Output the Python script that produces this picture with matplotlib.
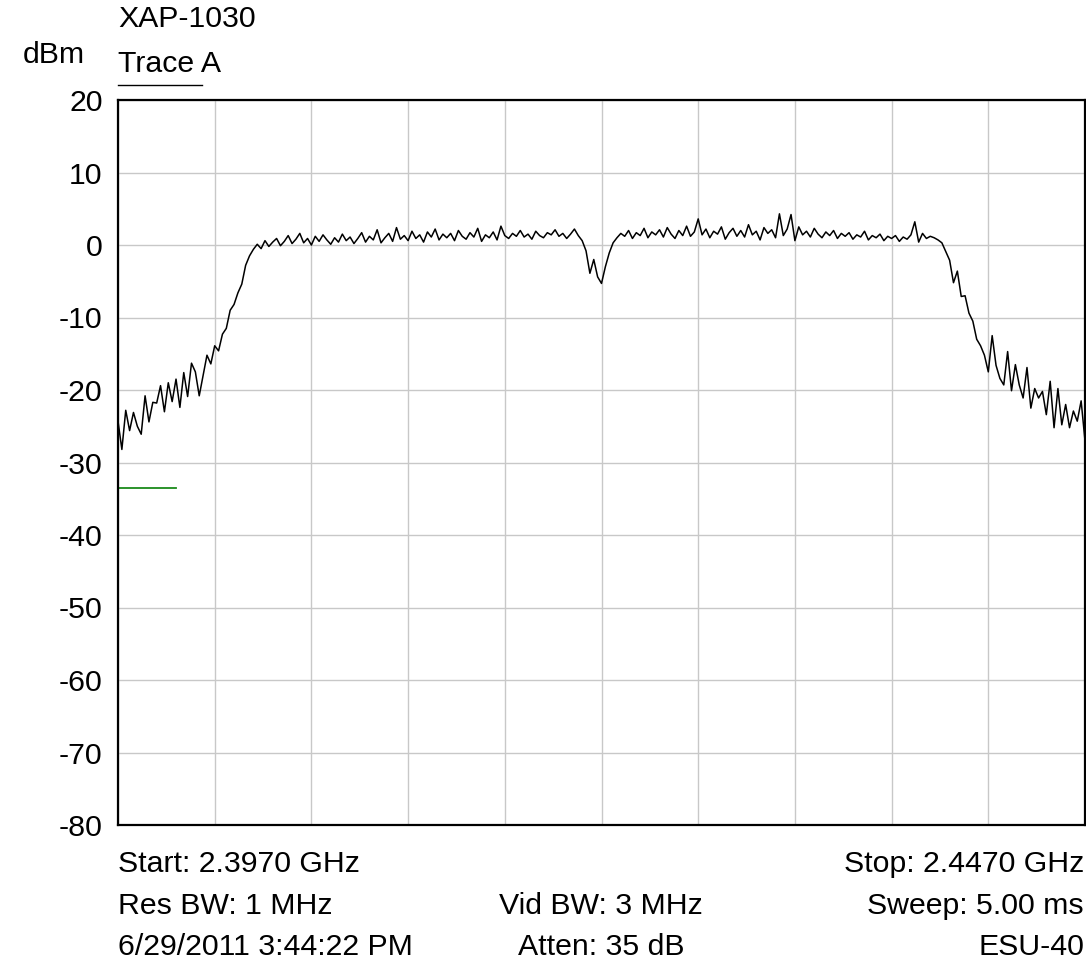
import numpy as np
import matplotlib.pyplot as plt

plt.rcParams['font.family'] = ['Liberation Sans', 'DejaVu Sans']

# sweep settings (GHz) and dBm scale
f_start = 2.3970
f_stop = 2.4470
y_ticks = [20, 10, 0, -10, -20, -30, -40, -50, -60, -70, -80]

# Trace A in 0.2 MHz steps
skirt_left = [-24.3, -28.2, -22.8, -25.6, -23.1, -25.0, -26.1, -20.8, -24.4, -21.7,
              -21.8, -19.4, -23.0, -19.0, -21.6, -18.5, -22.4, -17.6, -20.9, -16.3,
              -17.5, -20.8, -18.0, -15.2, -16.4, -13.9, -14.6, -12.3, -11.5, -9.0,
              -8.2, -6.6, -5.4, -2.8, -1.5, -0.6, 0.1, -0.5, 0.6, -0.2]
band_low = [0.4, 0.9, -0.1, 0.5, 1.3, 0.2,
            0.8, 1.6, 0.3, 0.9, 0.0, 1.2, 0.5, 1.4, 0.7, 0.1,
            1.0, 0.4, 1.5, 0.6, 1.1, 0.2, 0.9, 1.7, 0.4, 1.2,
            0.7, 2.1, 0.3, 1.0, 1.6, 0.5, 2.4, 0.8, 1.3, 0.6,
            1.9, 0.9, 1.4, 0.4, 1.8, 1.1, 2.2, 0.7, 1.5, 1.0,
            1.6, 0.6, 2.0, 1.2, 0.8, 1.7, 1.1, 2.3, 0.5, 1.4,
            1.0, 1.8, 0.7, 2.6, 1.3, 0.9, 1.6, 1.2, 2.0, 1.1,
            1.5, 0.8, 1.9, 1.3, 1.0, 1.7, 1.4, 2.1, 1.2, 1.6,
            0.9, 1.5, 2.2, 1.3]
notch = [0.6, -0.8, -3.9, -2.0, -4.4, -5.3, -3.0, -1.1, 0.3, 1.0, 1.6]
band_high = [1.2, 2.0, 0.9, 1.7, 1.3, 2.3, 1.0, 1.8, 1.4, 2.1,
             1.1, 2.4, 1.5, 0.9, 2.0, 1.3, 2.6, 1.2, 1.8, 3.6,
             1.4, 2.2, 1.0, 1.9, 1.5, 2.5, 0.8, 1.7, 2.3, 1.2,
             2.0, 1.1, 2.8, 1.4, 1.9, 0.7, 2.4, 1.6, 2.1, 1.0,
             4.3, 1.3, 2.2, 4.2, 0.6, 2.5, 1.4, 1.9, 1.1, 2.3,
             1.5, 1.0, 1.8, 1.3, 2.0, 0.9, 1.6, 1.2, 1.7, 0.8,
             1.4, 1.1, 1.9, 0.7, 1.3, 1.0, 1.5, 0.6, 1.2, 0.9,
             1.3, 0.5, 1.1, 0.8, 1.4, 3.2, 0.4, 1.6, 0.9, 1.2, 1.0, 0.7]
skirt_right = [0.3, -0.9, -2.1, -5.2, -3.6, -7.1, -7.0, -9.4, -10.5, -13.0,
               -13.9, -15.2, -17.5, -12.5, -16.6, -18.4, -19.3, -14.7, -20.1, -16.5,
               -19.3, -21.1, -16.9, -22.5, -19.8, -21.1, -20.2, -23.4, -18.8, -25.2,
               -19.8, -24.8, -22.0, -25.2, -22.9, -24.3, -21.5, -27.0]

# green limit marker on the left edge
marker_f = [2.3970, 2.4000]
marker_level = [-33.5, -33.5]

level = np.array(skirt_left + band_low + notch + band_high + skirt_right)
freq = np.linspace(f_start, f_stop, len(level))

W, H = 1086, 968
fig = plt.figure(figsize=(W / 100, H / 100), dpi=100)
ax = fig.add_axes([118 / W, 1 - 825 / H, 967 / W, 725 / H])

ax.plot(freq, level, color='black', linewidth=1.1)
ax.plot(marker_f, marker_level, color='#1a8a1a', linewidth=1.3)

fs = 21.8
ax.set_xlim(f_start, f_stop)
ax.set_ylim(-80, 20)
ax.set_xticks(np.linspace(f_start, f_stop, 11))
ax.set_yticks(y_ticks)
ax.set_xticklabels([])
ax.set_yticklabels([str(t) for t in y_ticks], fontsize=fs)
ax.tick_params(axis='y', length=0, pad=11)
ax.tick_params(axis='x', length=0, pad=0)
ax.grid(True, color='#c8c8c8', linewidth=1.0)
for s in ax.spines.values():
    s.set_linewidth(1.6)
    s.set_color('black')

# header text (positions in pixels, baselines)
fig.text(118 / W, 1 - 27 / H, 'XAP-1030', fontsize=fs, va='baseline', ha='left')
fig.text(118 / W, 1 - 72 / H, 'Trace A', fontsize=fs, va='baseline', ha='left')
fig.text(54 / W, 1 - 63 / H, 'dBm', fontsize=fs, va='baseline', ha='center')
fig.add_artist(plt.Line2D([118 / W, 202 / W], [1 - 85 / H, 1 - 85 / H],
                          color='black', linewidth=1.0))

# footer with sweep settings
rows = [872, 913.5, 955]
left_txt = ['Start: 2.3970 GHz', 'Res BW: 1 MHz', '6/29/2011 3:44:22 PM']
mid_txt = ['', 'Vid BW: 3 MHz', 'Atten: 35 dB']
right_txt = ['Stop: 2.4470 GHz', 'Sweep: 5.00 ms', 'ESU-40']
for yp, l, m, r in zip(rows, left_txt, mid_txt, right_txt):
    fig.text(118 / W, 1 - yp / H, l, fontsize=fs, va='baseline', ha='left')
    fig.text(601 / W, 1 - yp / H, m, fontsize=fs, va='baseline', ha='center')
    fig.text(1084 / W, 1 - yp / H, r, fontsize=fs, va='baseline', ha='right')

fig.savefig('out.png', dpi=100)
